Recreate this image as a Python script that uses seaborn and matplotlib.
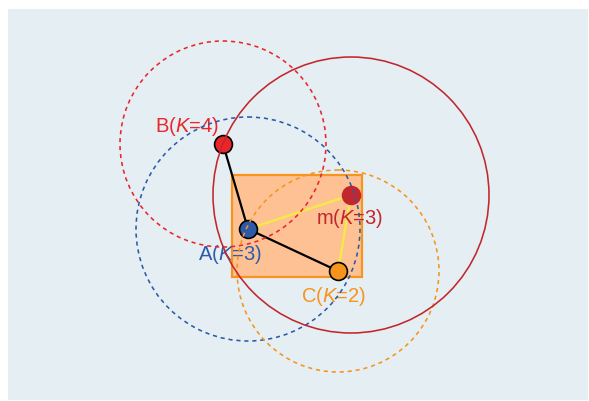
import matplotlib
matplotlib.use("Agg")
import matplotlib.pyplot as plt
import seaborn as sns
import pandas as pd
from matplotlib.patches import Circle, Rectangle

sns.set_theme(style="white")
plt.rcParams['font.family'] = ['Liberation Sans', 'DejaVu Sans']
plt.rcParams['mathtext.fontset'] = 'custom'
plt.rcParams['mathtext.it'] = 'Liberation Sans:italic'
plt.rcParams['mathtext.rm'] = 'Liberation Sans'

# points (pixel-like coordinate system, y downward)
names = ["A", "B", "C", "m"]
xs = [248, 223, 338, 351]
ys = [229, 144, 271, 195]
ks = [3, 4, 2, 3]
colors = ["#2c5aa8", "#e8262b", "#f7941d", "#c1272d"]
edge_colors = ["black", "black", "black", "#c1272d"]
radii = [112, 103, 101, 138]
circle_styles = ["--", "--", "--", "-"]
label_x = [230, 187, 333, 350]
label_y = [254, 126, 296, 219]

# rectangle (bounding box)
rect_x0, rect_y0, rect_x1, rect_y1 = 232, 175, 362, 277

# segments
black_segments = [("A", "B"), ("A", "C")]
yellow_segments = [("A", "m"), ("C", "m")]

df = pd.DataFrame({"name": names, "x": xs, "y": ys})
pos = {n: (x, y) for n, x, y in zip(names, xs, ys)}

fig = plt.figure(figsize=(5.89, 4.01), dpi=100)
ax = fig.add_axes([8 / 589, 1 / 401, 580 / 589, 391 / 401])
ax.set_facecolor("#e5eef3")
ax.set_xlim(8, 588)
ax.set_ylim(400, 9)
ax.set_axis_off()
ax.add_patch(Rectangle((0, 0), 1, 1, transform=ax.transAxes, facecolor="#e5eef3",
                       edgecolor="none", zorder=0))

ax.add_patch(Rectangle((rect_x0, rect_y0), rect_x1 - rect_x0, rect_y1 - rect_y0,
                       facecolor="#fdc193", edgecolor="#f7941d", linewidth=1.6, zorder=1))

for a, b in yellow_segments:
    ax.plot([pos[a][0], pos[b][0]], [pos[a][1], pos[b][1]], color="#f7e84a",
            linewidth=1.8, zorder=2)
for a, b in black_segments:
    ax.plot([pos[a][0], pos[b][0]], [pos[a][1], pos[b][1]], color="black",
            linewidth=1.6, zorder=2)

for i, n in enumerate(names):
    sns.scatterplot(data=df[df["name"] == n], x="x", y="y", ax=ax, s=165,
                    color=colors[i], edgecolor=edge_colors[i], linewidth=1.2,
                    zorder=3, legend=False)

for i, n in enumerate(names):
    ax.text(label_x[i], label_y[i], f"{n}($\\mathit{{K}}$={ks[i]})", color=colors[i],
            fontsize=14.5, ha="center", va="center", zorder=4)

for i, n in enumerate(names):
    ls = circle_styles[i]
    c = Circle((xs[i], ys[i]), radii[i], fill=False, edgecolor=colors[i],
               linewidth=1.15, linestyle=(0, (2.6, 2.4)) if ls == "--" else "-", zorder=5)
    ax.add_patch(c)

ax.set_xlabel("")
ax.set_ylabel("")
fig.savefig("out.png", dpi=100, facecolor="white")
